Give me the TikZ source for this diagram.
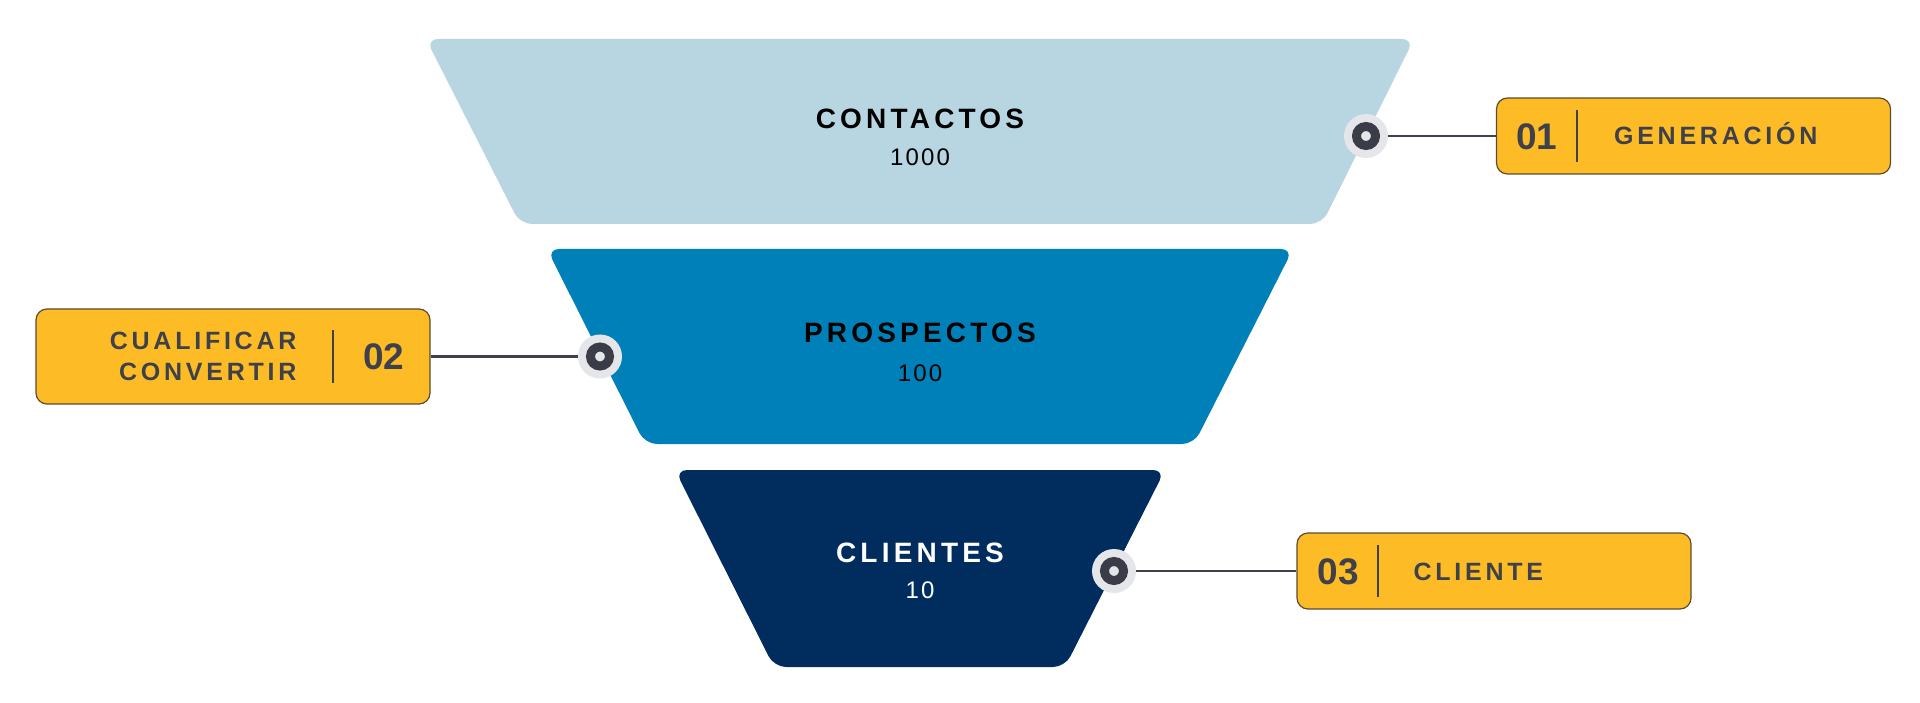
\documentclass[tikz,border=0pt]{standalone}
\usepackage{fontspec}
\setmainfont{Liberation Sans}
\newfontfamily\wide[LetterSpace=15]{Liberation Sans}
\newfontfamily\narrow[LetterSpace=9]{Liberation Sans}
\usetikzlibrary{positioning}
\definecolor{stageA}{HTML}{B8D5E2}
\definecolor{stageB}{HTML}{0080B8}
\definecolor{stageC}{HTML}{002D5E}
\definecolor{tagfill}{HTML}{FDBC25}
\definecolor{tagedge}{HTML}{5A4D33}
\definecolor{ink}{HTML}{3E414B}
\definecolor{dotdark}{HTML}{3A3D47}
\definecolor{dotring}{HTML}{E5E6E9}

\begin{document}
\begin{tikzpicture}[x=1pt,y=1pt,
	stage/.style={rounded corners=12pt},
	title/.style={inner sep=0pt, text height=20pt, text depth=0pt, font=\wide\bfseries\fontsize{28}{30}\selectfont},
	count/.style={inner sep=0pt, text height=17pt, text depth=0pt, font=\narrow\fontsize{24}{28}\selectfont},
	tag/.style={draw=tagedge, fill=tagfill, line width=1.2pt, rounded corners=11pt, minimum width=394pt, minimum height=76pt, inner sep=0pt},
	num/.style={inner sep=0pt, text height=27pt, text depth=0pt, text=ink, font=\bfseries\fontsize{37}{40}\selectfont},
	lbl/.style={inner sep=0pt, text height=18pt, text depth=0pt, text=ink, font=\wide\bfseries\fontsize{25}{31}\selectfont},
	bar/.style={draw=ink, line width=2pt},
	link/.style={draw=ink, line width=2pt},
	dot/.style={circle, fill=dotring, minimum size=44pt, inner sep=0pt}]
	\fill[white] (0,0) rectangle (1920,-703);
	\useasboundingbox (0,0) rectangle (1920,-703);

	% funnel
	\fill[stageA, stage] (426,-39) -- (1414,-39) -- (1322,-224) -- (520,-224) -- cycle;
	\fill[stageB, stage] (547,-249) -- (1293,-249) -- (1194,-444) -- (645,-444) -- cycle;
	\fill[stageC, stage] (675,-470) -- (1165,-470) -- (1065,-667) -- (774,-667) -- cycle;

	\node[title] (t1) at (920,-119) {CONTACTOS};
	\node[count, below=19pt of t1] (n1) {1000};
	\node[title] (t2) at (920,-333) {PROSPECTOS};
	\node[count, below=21pt of t2] (n2) {100};
	\node[title, text=white] (t3) at (920,-552) {CLIENTES};
	\node[count, text=white, below=19pt of t3] (n3) {10};

	% tags
	\node[tag] (b1) at (1693.5,-136) {};
	\node[num] (k1) at ([xshift=41pt]b1.west) {01};
	\draw[bar] ([xshift=81pt,yshift=26pt]b1.west) -- ([xshift=81pt,yshift=-26pt]b1.west);
	\node[lbl, anchor=west] (l1) at ([xshift=118pt]b1.west) {GENERACIÓN};

	\node[tag, minimum height=95pt] (b2) at (233,-356.5) {};
	\node[num] (k2) at ([xshift=-47pt]b2.east) {02};
	\draw[bar] ([xshift=-98pt,yshift=26pt]b2.east) -- ([xshift=-98pt,yshift=-26pt]b2.east);
	\node[inner sep=0pt, text=ink, align=right, anchor=east, font=\wide\bfseries\fontsize{25}{31}\selectfont] (l2) at ([xshift=-134pt]b2.east) {CUALIFICAR\\CONVERTIR};

	\node[tag] (b3) at (1494,-571) {};
	\node[num] (k3) at ([xshift=42pt]b3.west) {03};
	\draw[bar] ([xshift=82pt,yshift=26pt]b3.west) -- ([xshift=82pt,yshift=-26pt]b3.west);
	\node[lbl, anchor=west] (l3) at ([xshift=117pt]b3.west) {CLIENTE};

	% markers
	\node[dot] (d1) at (1366,-136) {};
	\node[dot] (d2) at (600,-356.5) {};
	\node[dot] (d3) at (1114,-571) {};
	\draw[link] (d1) -- (b1);
	\draw[link] (d2) -- (b2);
	\draw[link] (d3) -- (b3);
	\draw[dotdark, line width=9pt] (d1.center) circle (9.5);
	\draw[dotdark, line width=9pt] (d2.center) circle (9.5);
	\draw[dotdark, line width=9pt] (d3.center) circle (9.5);
\end{tikzpicture}
\end{document}
